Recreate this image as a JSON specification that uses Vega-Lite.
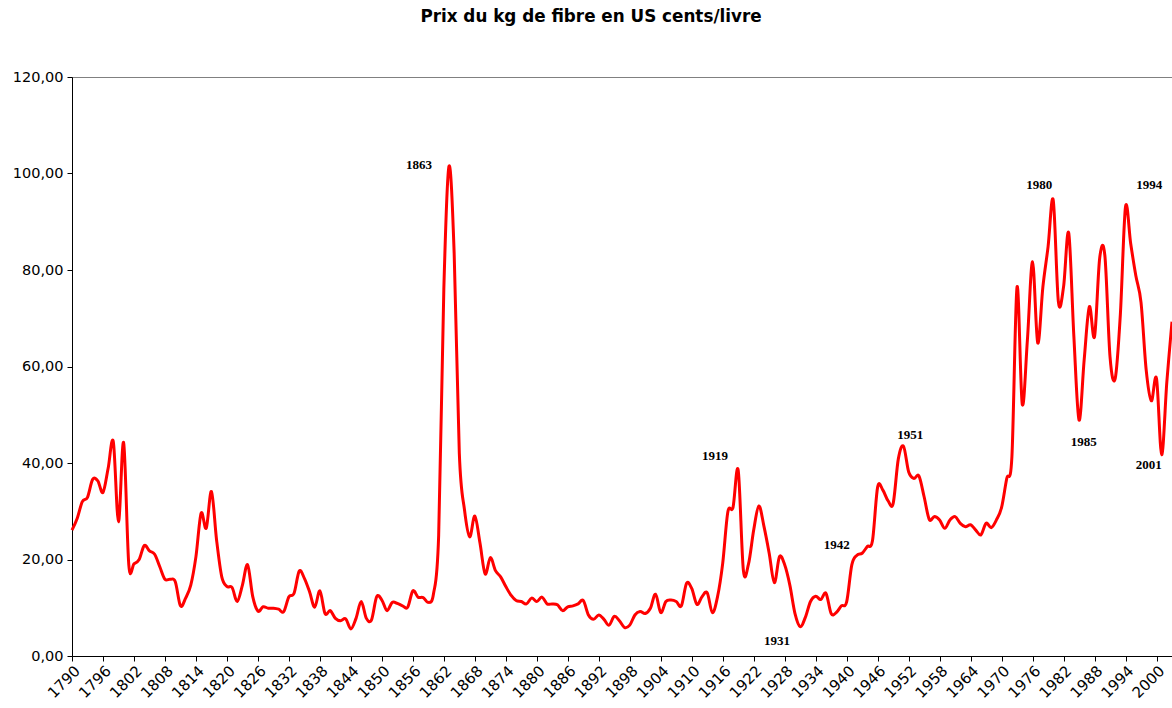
{
  "$schema": "https://vega.github.io/schema/vega-lite/v6.json",
  "width": 1100,
  "height": 579,
  "autosize": {"type": "none"},
  "padding": {"left": 72, "top": 77, "right": 0, "bottom": 52},
  "background": "white",
  "title": {
    "text": "Prix du kg de fibre en US cents/livre",
    "font": "DejaVu Sans",
    "fontSize": 16.8,
    "fontWeight": "bold",
    "color": "black",
    "anchor": "middle",
    "dx": -31,
    "offset": 30,
    "baseline": "alphabetic"
  },
  "config": {
    "view": {"stroke": "#808080", "strokeWidth": 1}
  },
  "datasets": {
    "prix": [
      {"annee": 1790, "prix": 26.1}, {"annee": 1791, "prix": 28.5}, {"annee": 1792, "prix": 32.0}, {"annee": 1793, "prix": 32.9},
      {"annee": 1794, "prix": 36.6}, {"annee": 1795, "prix": 36.3}, {"annee": 1796, "prix": 33.9}, {"annee": 1797, "prix": 38.9},
      {"annee": 1798, "prix": 44.4}, {"annee": 1799, "prix": 27.8}, {"annee": 1800, "prix": 44.2}, {"annee": 1801, "prix": 18.9},
      {"annee": 1802, "prix": 19.1}, {"annee": 1803, "prix": 20.0}, {"annee": 1804, "prix": 22.9}, {"annee": 1805, "prix": 21.8},
      {"annee": 1806, "prix": 21.1}, {"annee": 1807, "prix": 18.5}, {"annee": 1808, "prix": 15.9}, {"annee": 1809, "prix": 15.9},
      {"annee": 1810, "prix": 15.4}, {"annee": 1811, "prix": 10.4}, {"annee": 1812, "prix": 12.0}, {"annee": 1813, "prix": 14.7},
      {"annee": 1814, "prix": 20.6}, {"annee": 1815, "prix": 29.6}, {"annee": 1816, "prix": 26.5}, {"annee": 1817, "prix": 34.1},
      {"annee": 1818, "prix": 24.0}, {"annee": 1819, "prix": 16.4}, {"annee": 1820, "prix": 14.4}, {"annee": 1821, "prix": 14.2},
      {"annee": 1822, "prix": 11.3}, {"annee": 1823, "prix": 14.7}, {"annee": 1824, "prix": 18.9}, {"annee": 1825, "prix": 12.3},
      {"annee": 1826, "prix": 9.3}, {"annee": 1827, "prix": 10.2}, {"annee": 1828, "prix": 9.9}, {"annee": 1829, "prix": 9.9},
      {"annee": 1830, "prix": 9.7}, {"annee": 1831, "prix": 9.2}, {"annee": 1832, "prix": 12.3}, {"annee": 1833, "prix": 13.0},
      {"annee": 1834, "prix": 17.6}, {"annee": 1835, "prix": 16.1}, {"annee": 1836, "prix": 13.3}, {"annee": 1837, "prix": 10.1},
      {"annee": 1838, "prix": 13.5}, {"annee": 1839, "prix": 8.8}, {"annee": 1840, "prix": 9.4}, {"annee": 1841, "prix": 7.8},
      {"annee": 1842, "prix": 7.3}, {"annee": 1843, "prix": 7.7}, {"annee": 1844, "prix": 5.6}, {"annee": 1845, "prix": 7.8},
      {"annee": 1846, "prix": 11.3}, {"annee": 1847, "prix": 7.8}, {"annee": 1848, "prix": 7.5}, {"annee": 1849, "prix": 12.3},
      {"annee": 1850, "prix": 11.6}, {"annee": 1851, "prix": 9.4}, {"annee": 1852, "prix": 11.1}, {"annee": 1853, "prix": 10.9},
      {"annee": 1854, "prix": 10.4}, {"annee": 1855, "prix": 10.1}, {"annee": 1856, "prix": 13.5}, {"annee": 1857, "prix": 12.2},
      {"annee": 1858, "prix": 12.1}, {"annee": 1859, "prix": 11.1}, {"annee": 1860, "prix": 12.9}, {"annee": 1861, "prix": 25.0},
      {"annee": 1862, "prix": 76.0}, {"annee": 1863, "prix": 101.5}, {"annee": 1864, "prix": 83.5}, {"annee": 1865, "prix": 42.0},
      {"annee": 1866, "prix": 30.3}, {"annee": 1867, "prix": 24.7}, {"annee": 1868, "prix": 29.0}, {"annee": 1869, "prix": 23.4},
      {"annee": 1870, "prix": 17.0}, {"annee": 1871, "prix": 20.4}, {"annee": 1872, "prix": 17.7}, {"annee": 1873, "prix": 16.4},
      {"annee": 1874, "prix": 14.4}, {"annee": 1875, "prix": 12.6}, {"annee": 1876, "prix": 11.5}, {"annee": 1877, "prix": 11.3},
      {"annee": 1878, "prix": 10.8}, {"annee": 1879, "prix": 12.0}, {"annee": 1880, "prix": 11.3}, {"annee": 1881, "prix": 12.2},
      {"annee": 1882, "prix": 10.8}, {"annee": 1883, "prix": 10.8}, {"annee": 1884, "prix": 10.6}, {"annee": 1885, "prix": 9.4},
      {"annee": 1886, "prix": 10.2}, {"annee": 1887, "prix": 10.4}, {"annee": 1888, "prix": 10.8}, {"annee": 1889, "prix": 11.5},
      {"annee": 1890, "prix": 8.5}, {"annee": 1891, "prix": 7.6}, {"annee": 1892, "prix": 8.5}, {"annee": 1893, "prix": 7.6},
      {"annee": 1894, "prix": 6.4}, {"annee": 1895, "prix": 8.2}, {"annee": 1896, "prix": 7.3}, {"annee": 1897, "prix": 5.9},
      {"annee": 1898, "prix": 6.4}, {"annee": 1899, "prix": 8.5}, {"annee": 1900, "prix": 9.2}, {"annee": 1901, "prix": 8.8},
      {"annee": 1902, "prix": 9.9}, {"annee": 1903, "prix": 12.8}, {"annee": 1904, "prix": 9.0}, {"annee": 1905, "prix": 11.3},
      {"annee": 1906, "prix": 11.6}, {"annee": 1907, "prix": 11.3}, {"annee": 1908, "prix": 10.4}, {"annee": 1909, "prix": 15.1},
      {"annee": 1910, "prix": 14.0}, {"annee": 1911, "prix": 10.7}, {"annee": 1912, "prix": 12.3}, {"annee": 1913, "prix": 13.1},
      {"annee": 1914, "prix": 9.0}, {"annee": 1915, "prix": 12.3}, {"annee": 1916, "prix": 19.2}, {"annee": 1917, "prix": 29.9},
      {"annee": 1918, "prix": 30.8}, {"annee": 1919, "prix": 38.5}, {"annee": 1920, "prix": 17.8}, {"annee": 1921, "prix": 19.1},
      {"annee": 1922, "prix": 26.1}, {"annee": 1923, "prix": 31.1}, {"annee": 1924, "prix": 26.8}, {"annee": 1925, "prix": 21.3},
      {"annee": 1926, "prix": 15.2}, {"annee": 1927, "prix": 20.6}, {"annee": 1928, "prix": 18.9}, {"annee": 1929, "prix": 14.7},
      {"annee": 1930, "prix": 8.8}, {"annee": 1931, "prix": 6.1}, {"annee": 1932, "prix": 8.0}, {"annee": 1933, "prix": 11.3},
      {"annee": 1934, "prix": 12.4}, {"annee": 1935, "prix": 11.7}, {"annee": 1936, "prix": 13.0}, {"annee": 1937, "prix": 8.8},
      {"annee": 1938, "prix": 9.0}, {"annee": 1939, "prix": 10.4}, {"annee": 1940, "prix": 11.2}, {"annee": 1941, "prix": 18.9},
      {"annee": 1942, "prix": 20.9}, {"annee": 1943, "prix": 21.3}, {"annee": 1944, "prix": 22.7}, {"annee": 1945, "prix": 23.9},
      {"annee": 1946, "prix": 35.0}, {"annee": 1947, "prix": 34.4}, {"annee": 1948, "prix": 32.2}, {"annee": 1949, "prix": 31.6},
      {"annee": 1950, "prix": 40.8}, {"annee": 1951, "prix": 43.5}, {"annee": 1952, "prix": 38.2}, {"annee": 1953, "prix": 36.8},
      {"annee": 1954, "prix": 37.3}, {"annee": 1955, "prix": 33.0}, {"annee": 1956, "prix": 28.3}, {"annee": 1957, "prix": 28.9},
      {"annee": 1958, "prix": 28.2}, {"annee": 1959, "prix": 26.5}, {"annee": 1960, "prix": 28.2}, {"annee": 1961, "prix": 28.9},
      {"annee": 1962, "prix": 27.5}, {"annee": 1963, "prix": 26.8}, {"annee": 1964, "prix": 27.2}, {"annee": 1965, "prix": 26.1},
      {"annee": 1966, "prix": 25.1}, {"annee": 1967, "prix": 27.5}, {"annee": 1968, "prix": 26.6}, {"annee": 1969, "prix": 28.2},
      {"annee": 1970, "prix": 30.8}, {"annee": 1971, "prix": 36.8}, {"annee": 1972, "prix": 41.3}, {"annee": 1973, "prix": 76.5},
      {"annee": 1974, "prix": 52.2}, {"annee": 1975, "prix": 65.5}, {"annee": 1976, "prix": 81.7}, {"annee": 1977, "prix": 64.9},
      {"annee": 1978, "prix": 76.5}, {"annee": 1979, "prix": 84.8}, {"annee": 1980, "prix": 94.5}, {"annee": 1981, "prix": 73.4},
      {"annee": 1982, "prix": 76.5}, {"annee": 1983, "prix": 87.7}, {"annee": 1984, "prix": 66.2}, {"annee": 1985, "prix": 48.9},
      {"annee": 1986, "prix": 61.5}, {"annee": 1987, "prix": 72.4}, {"annee": 1988, "prix": 66.2}, {"annee": 1989, "prix": 82.5},
      {"annee": 1990, "prix": 83.0}, {"annee": 1991, "prix": 62.0}, {"annee": 1992, "prix": 57.5}, {"annee": 1993, "prix": 70.8},
      {"annee": 1994, "prix": 93.1}, {"annee": 1995, "prix": 85.5}, {"annee": 1996, "prix": 78.8}, {"annee": 1997, "prix": 73.3},
      {"annee": 1998, "prix": 59.3}, {"annee": 1999, "prix": 52.9}, {"annee": 2000, "prix": 57.5}, {"annee": 2001, "prix": 41.7},
      {"annee": 2002, "prix": 56.8}, {"annee": 2003, "prix": 69.3}
    ],
    "etiquettes": [
      {"label": "1863", "annee": 1857.2, "prix": 101.8},
      {"label": "1919", "annee": 1914.5, "prix": 41.5},
      {"label": "1931", "annee": 1926.5, "prix": 3.2},
      {"label": "1942", "annee": 1938.1, "prix": 23.1},
      {"label": "1951", "annee": 1952.3, "prix": 45.7},
      {"label": "1980", "annee": 1977.3, "prix": 97.6},
      {"label": "1985", "annee": 1985.9, "prix": 44.4},
      {"label": "1994", "annee": 1998.6, "prix": 97.6},
      {"label": "2001", "annee": 1998.5, "prix": 39.6}
    ]
  },
  "encoding": {
    "x": {
      "field": "annee",
      "type": "quantitative",
      "scale": {"domain": [1790, 2003], "nice": false, "zero": false},
      "axis": {
        "title": null,
        "values": [1790, 1796, 1802, 1808, 1814, 1820, 1826, 1832, 1838, 1844, 1850, 1856, 1862, 1868, 1874, 1880, 1886, 1892, 1898, 1904, 1910, 1916, 1922, 1928, 1934, 1940, 1946, 1952, 1958, 1964, 1970, 1976, 1982, 1988, 1994, 2000],
        "format": "d",
        "labelAngle": -45,
        "labelFont": "DejaVu Sans",
        "labelFontSize": 15,
        "labelColor": "black",
        "labelPadding": 2,
        "labelOverlap": false,
        "labelFlush": false,
        "labelBound": false,
        "tickColor": "black",
        "tickSize": 5,
        "domainColor": "black",
        "grid": false
      }
    },
    "y": {
      "field": "prix",
      "type": "quantitative",
      "scale": {"domain": [0, 120], "nice": false},
      "axis": {
        "title": null,
        "values": [0, 20, 40, 60, 80, 100, 120],
        "labelExpr": "replace(format(datum.value, '.2f'), '.', ',')",
        "labelFont": "DejaVu Sans",
        "labelFontSize": 14.5,
        "labelColor": "black",
        "labelPadding": 4,
        "labelOverlap": false,
        "tickColor": "black",
        "tickSize": 5,
        "domainColor": "black",
        "grid": false
      }
    }
  },
  "layer": [
    {
      "data": {"name": "prix"},
      "mark": {"type": "line", "color": "#ff0000", "strokeWidth": 3, "interpolate": "cardinal"}
    },
    {
      "data": {"name": "etiquettes"},
      "mark": {"type": "text", "font": "Liberation Serif", "fontWeight": "bold", "fontSize": 13, "color": "black", "align": "center", "baseline": "middle"},
      "encoding": {
        "text": {"field": "label"}
      }
    }
  ]
}
